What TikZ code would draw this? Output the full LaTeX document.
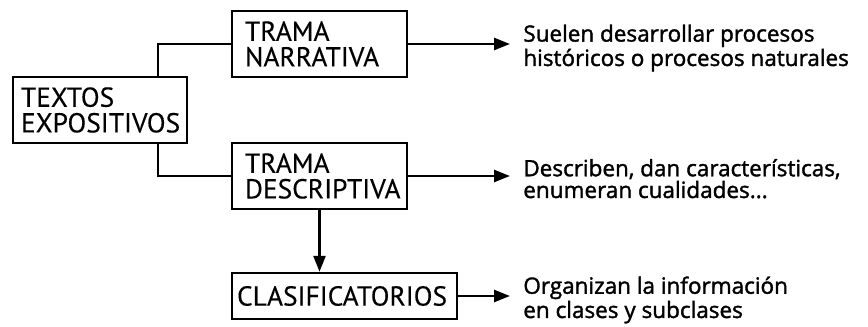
\documentclass[tikz,border=0pt]{standalone}
\usepackage{fontspec}
\setmainfont{PT Sans}[FakeBold=0.3]
\newfontfamily\descfont[FakeBold=1.6]{Open Sans}
\usetikzlibrary{arrows.meta}
\tikzset{
    box/.style={draw, line width=1.4pt, align=left, inner ysep=0pt, font=\fontsize{15.6}{14.6}\selectfont},
    desc/.style={anchor=base west, align=left, inner xsep=0.26cm, font=\descfont\fontsize{12.8}{10.8}\selectfont},
    conn/.style={line width=1.4pt},
    arr/.style={conn, -{Triangle[length=0.32cm,width=0.24cm]}}
}
\begin{document}
\begin{tikzpicture}[x=0.02cm,y=-0.02cm]
                \useasboundingbox (0,0) rectangle (868,327);
                \node[box, text width=3.16cm, inner xsep=0.16cm, minimum height=1.32cm] (exp) at (100,110) {TEXTOS\\EXPOSITIVOS};
                \node[box, text width=2.98cm, inner xsep=0.26cm, minimum height=1.32cm] (nar) at (319.5,44) {TRAMA\\NARRATIVA};
                \node[box, text width=2.98cm, inner xsep=0.26cm, minimum height=1.32cm] (des) at (319.5,176) {TRAMA\\DESCRIPTIVA};
                \node[box, text width=4.3cm, inner xsep=0.1cm, minimum height=0.92cm] (cla) at (344.5,296) {CLASIFICATORIOS};
                \coordinate (tips) at (510,0);
                \draw[conn] ([xshift=1.16cm]exp.north) |- (nar.west);
                \draw[conn] ([xshift=1.16cm]exp.south) |- (des.west);
                \draw[arr] (des.south) -- (des.south |- cla.north);
                \foreach \n/\t in {nar/{Suelen desarrollar procesos\\históricos o procesos naturales},des/{Describen, dan características,\\enumeran cualidades...},cla/{Organizan la información\\en clases y subclases}}
                {
                    \coordinate (e\n) at (\n.east -| tips);
                    \node[desc] (t\n) at ([yshift=-0.44cm]e\n) {\t};
                    \draw[arr] (\n.east) -- (\n.east -| t\n.west);
                }
            \end{tikzpicture}
\end{document}
